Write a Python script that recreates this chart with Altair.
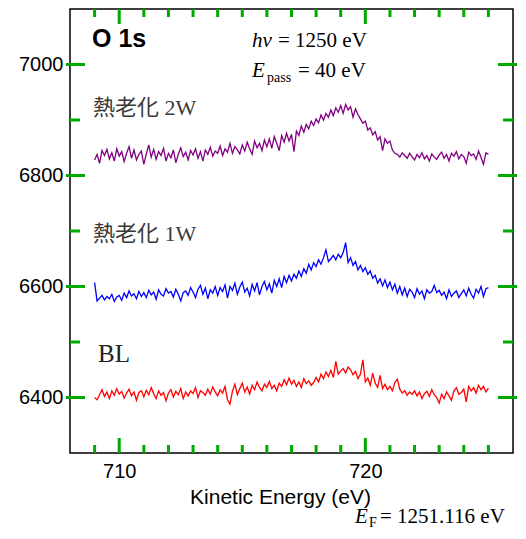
import altair as alt
import pandas as pd

# Kinetic energy grid (eV)
energy = [round(709.0 + 0.1 * i, 1) for i in range(161)]

aged_2w = [
    6828, 6838, 6822, 6845, 6836, 6847, 6830, 6841, 6826, 6848,
    6835, 6843, 6825, 6840, 6852, 6831, 6846, 6828, 6838, 6844,
    6820, 6839, 6855, 6833, 6847, 6829, 6843, 6836, 6849, 6826,
    6840, 6832, 6846, 6823, 6838, 6850, 6834, 6842, 6828, 6845,
    6837, 6848, 6831, 6843, 6826, 6846, 6838, 6851, 6835, 6844,
    6840, 6853, 6836, 6848, 6842, 6858, 6840, 6852, 6846, 6839,
    6855, 6844, 6860, 6848, 6838, 6862, 6850, 6858, 6845, 6864,
    6852, 6866, 6849, 6870, 6858, 6845, 6872, 6860, 6876, 6862,
    6874, 6843, 6880, 6872, 6889, 6878, 6892, 6884, 6898, 6890,
    6902, 6895, 6909, 6900, 6912, 6905, 6918, 6908, 6922, 6914,
    6926, 6912, 6928, 6918, 6924, 6905, 6920, 6910, 6902, 6894,
    6898, 6882, 6886, 6873, 6879, 6864, 6870, 6845, 6866, 6858,
    6862, 6846, 6840, 6838, 6833, 6841, 6836, 6831, 6840, 6834,
    6828, 6838, 6832, 6841, 6830, 6836, 6826, 6839, 6833, 6829,
    6837, 6842, 6831, 6838, 6826, 6840, 6835, 6843, 6830, 6838,
    6834, 6822, 6842, 6836, 6839, 6829, 6844, 6833, 6820, 6841,
    6838,
]

aged_1w = [
    6607, 6574, 6579, 6584, 6576, 6582, 6578, 6586, 6573, 6581,
    6584, 6575, 6588, 6580, 6592, 6583, 6587, 6578, 6591, 6582,
    6589, 6580, 6593, 6585, 6590, 6577, 6594, 6586, 6583, 6596,
    6588, 6591, 6581, 6595, 6586, 6574, 6589, 6592, 6584, 6598,
    6590, 6580, 6595, 6602, 6586, 6597, 6578, 6594, 6588, 6600,
    6584, 6598, 6591, 6603, 6579, 6600, 6593, 6606, 6586, 6599,
    6608, 6590, 6597, 6583, 6604, 6592, 6607, 6585, 6600, 6609,
    6594, 6605, 6588, 6611, 6600, 6614, 6598, 6618, 6607, 6620,
    6610, 6622, 6615, 6628, 6618, 6632, 6624, 6640, 6630, 6643,
    6636, 6648, 6640, 6652, 6666, 6645, 6650, 6656, 6648, 6658,
    6652, 6661, 6679, 6643, 6652, 6638, 6645, 6630, 6638, 6627,
    6634, 6622, 6628, 6615, 6620, 6606, 6614, 6601, 6612, 6598,
    6608, 6594, 6604, 6588, 6600, 6585, 6597, 6582, 6595, 6590,
    6580, 6596, 6586, 6592, 6578, 6594, 6588, 6591, 6602, 6589,
    6593, 6584, 6590, 6578, 6594, 6582, 6588, 6592, 6580, 6587,
    6594, 6583, 6597, 6586, 6579, 6595, 6588, 6600, 6582, 6596,
    6598,
]

baseline = [
    6400, 6396, 6405, 6414, 6402, 6410, 6398, 6412, 6404, 6416,
    6406, 6411, 6399, 6408, 6415, 6403, 6410, 6395, 6409, 6412,
    6401, 6413, 6405, 6418, 6407, 6398, 6412, 6404, 6409, 6394,
    6408, 6414, 6401, 6411, 6405, 6416, 6398, 6410, 6403, 6412,
    6407, 6418, 6400, 6412, 6409, 6404, 6415, 6406, 6419, 6410,
    6403, 6414, 6408, 6420, 6396, 6388, 6411, 6424, 6405, 6416,
    6426, 6410, 6419, 6406, 6422, 6414, 6428, 6418, 6412, 6424,
    6418, 6429, 6416, 6422, 6412, 6426, 6420, 6432, 6423, 6435,
    6424, 6431, 6420, 6428, 6418, 6434, 6425, 6430, 6422, 6427,
    6436, 6428, 6442, 6434, 6446, 6438, 6449, 6436, 6465, 6442,
    6448, 6452, 6444, 6455, 6450, 6441, 6447, 6434, 6442, 6468,
    6428, 6435, 6422, 6444, 6426, 6418, 6440, 6416, 6424, 6414,
    6420, 6412, 6427, 6433, 6415, 6408, 6412, 6404, 6410, 6406,
    6412, 6403, 6410, 6398, 6407, 6411, 6402, 6414, 6405, 6400,
    6390, 6406, 6398, 6410, 6403, 6395, 6412, 6418, 6406, 6409,
    6415, 6392, 6420, 6412, 6418, 6408, 6422, 6414, 6420, 6410,
    6417,
]

series_names = ["熱老化 2W", "熱老化 1W", "BL"]
series_colors = ["#800080", "#0000ff", "#ff0000"]

x_major = [710, 720]
x_minor = [709, 711, 712, 713, 714, 715, 716, 717, 718, 719,
           721, 722, 723, 724, 725]
y_major = [6400, 6600, 6800, 7000]
y_minor = [6500, 6700, 6900]

W, H = 443, 444

rows = []
for name, vals in zip(series_names, [aged_2w, aged_1w, baseline]):
    for e, v in zip(energy, vals):
        rows.append({"energy": e, "counts": v, "series": name})
df = pd.DataFrame(rows)

xscale = alt.Scale(domain=[708, 726], nice=False, zero=False)
yscale = alt.Scale(domain=[6300, 7100], nice=False, zero=False)

TICK_COLOR = "#00aa00"
TICK_W = 3

lines = alt.Chart(df).mark_line(strokeWidth=1.3).encode(
    x=alt.X("energy:Q", scale=xscale,
            axis=alt.Axis(values=x_major, title="Kinetic Energy (eV)",
                          labelPadding=8, titleX=210, titleY=50,
                          titleAlign="center", titleBaseline="alphabetic")),
    y=alt.Y("counts:Q", scale=yscale,
            axis=alt.Axis(values=y_major, title=None, labelPadding=7,
                          format="d")),
    color=alt.Color("series:N",
                    scale=alt.Scale(domain=series_names, range=series_colors),
                    legend=None),
    detail="series:N",
)


def xticks(vals, y1, y2):
    return alt.Chart(pd.DataFrame({"energy": vals})).mark_rule(
        color=TICK_COLOR, strokeWidth=TICK_W).encode(
        x=alt.X("energy:Q"), y=alt.value(y1), y2=alt.value(y2))


def yticks(vals, x1, x2):
    return alt.Chart(pd.DataFrame({"counts": vals})).mark_rule(
        color=TICK_COLOR, strokeWidth=TICK_W).encode(
        y=alt.Y("counts:Q"), x=alt.value(x1), x2=alt.value(x2))


tick_layers = [
    xticks(x_major, H, H - 15), xticks(x_minor, H, H - 8),
    xticks(x_major, 0, 15), xticks(x_minor, 0, 8),
    yticks(y_major, -4, 15), yticks(y_minor, 0, 10),
    yticks(y_major, W - 15, W + 4), yticks(y_minor, W - 10, W),
]


def label(text, x, y, size, font, style="normal", weight="normal",
          color="black"):
    return alt.Chart(alt.Data(values=[{}])).mark_text(
        text=text, align="left", baseline="alphabetic", fontSize=size,
        font=font, fontStyle=style, fontWeight=weight, color=color,
    ).encode(x=alt.value(x), y=alt.value(y))


SERIF = "Liberation Serif"
SANS = "Liberation Sans"
CJK = "Liberation Serif, Noto Sans CJK JP"

texts = [
    label("O 1s", 22, 38, 25, SANS, weight="bold"),
    label("hν", 182, 38, 21, SERIF, style="italic"),
    label("= 1250 eV", 208, 38, 21, SERIF),
    label("E", 182, 68, 21, SERIF, style="italic"),
    label("pass", 197, 73, 14, SERIF),
    label("= 40 eV", 228, 68, 21, SERIF),
    label("熱老化 2W", 23, 106, 22, CJK, color="#3a3a3a"),
    label("熱老化 1W", 23, 232, 22, CJK, color="#3a3a3a"),
    label("BL", 28, 353, 25, SERIF, color="#222222"),
    label("E", 285, 514, 21, SERIF, style="italic"),
    label("F", 299, 518, 14, SERIF),
    label("= 1251.116 eV", 310, 514, 21, SERIF),
]

chart = alt.layer(lines, *tick_layers, *texts).properties(
    width=W, height=H,
    padding={"left": 62, "top": 1, "right": 5, "bottom": 77},
    autosize="none",
).configure_view(
    stroke="black", strokeWidth=1.5
).configure_axis(
    domain=False, ticks=False, grid=False,
    labelFont=SANS, labelFontSize=20, labelColor="black",
    titleFont=SANS, titleFontSize=21, titleFontWeight="normal",
    titleColor="black",
)

chart.save("out.html", embed_options={"renderer": "svg", "actions": False})
